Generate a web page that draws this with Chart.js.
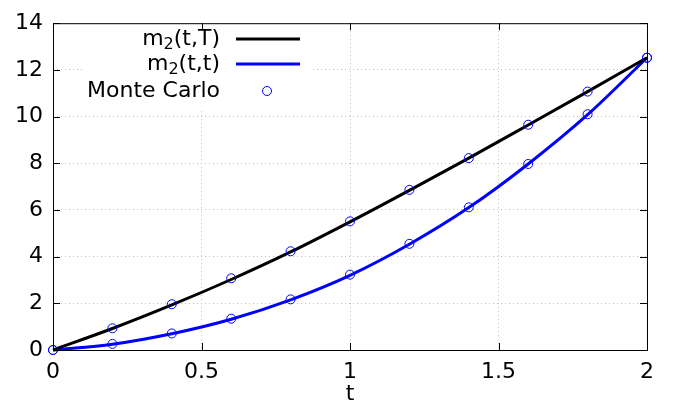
<!DOCTYPE html>
<html>
<head>
<meta charset="utf-8">
<script src="https://cdn.jsdelivr.net/npm/chart.js@4/dist/chart.umd.min.js"></script>
<style>
  html, body { margin: 0; padding: 0; background: #fff; }
  #wrap { width: 676px; height: 407px; position: relative; }
</style>
</head>
<body>
<div id="wrap"><canvas id="chart"></canvas></div>
<script>
// values
const tValues = [0, 0.2, 0.4, 0.6, 0.8, 1.0, 1.2, 1.4, 1.6, 1.8, 2.0];
const m2TT = [0, 0.92, 1.93, 3.02, 4.20, 5.49, 6.84, 8.22, 9.64, 11.07, 12.52];
const m2tt = [0, 0.25, 0.70, 1.32, 2.15, 3.20, 4.53, 6.10, 7.97, 10.08, 12.52];
const mcTT = [0, 0.93, 1.96, 3.07, 4.23, 5.51, 6.86, 8.22, 9.65, 11.07, 12.52];
const mcTt = [0, 0.26, 0.71, 1.34, 2.17, 3.23, 4.55, 6.11, 7.97, 10.10, 12.52];
const xTicks = [0, 0.5, 1, 1.5, 2];
const yTicks = [0, 2, 4, 6, 8, 10, 12, 14];
const legendLabels = ['m|2|(t,T)', 'm|2|(t,t)', 'Monte Carlo'];

const FONT = 'DejaVu Sans';
const toPoints = ys => tValues.map((t, i) => ({ x: t, y: ys[i] }));

// gnuplot style frame: black box with inward ticks on all sides
const framePlugin = {
    id: 'frame',
    afterDraw(chart) {
        const { ctx, chartArea: a, scales } = chart;
        ctx.save();
        ctx.strokeStyle = '#000';
        ctx.lineWidth = 1;
        ctx.beginPath();
        xTicks.forEach(v => {
            const x = Math.round(scales.x.getPixelForValue(v)) + 0.5;
            ctx.moveTo(x, a.bottom); ctx.lineTo(x, a.bottom - 7);
            ctx.moveTo(x, a.top); ctx.lineTo(x, a.top + 7);
        });
        yTicks.forEach(v => {
            const y = Math.round(scales.y.getPixelForValue(v)) + 0.5;
            ctx.moveTo(a.left, y); ctx.lineTo(a.left + 7, y);
            ctx.moveTo(a.right, y); ctx.lineTo(a.right - 7, y);
        });
        ctx.stroke();
        ctx.strokeRect(a.left + 0.5, a.top + 0.5, a.right - a.left, a.bottom - a.top);
        ctx.restore();
    }
};

// legend drawn by hand so the subscript and placement match the reference
const legendPlugin = {
    id: 'keyBox',
    beforeDatasetsDraw(chart) {
        // the key is opaque: grid lines do not show behind it
        const { ctx, chartArea: a } = chart;
        ctx.save();
        ctx.fillStyle = '#fff';
        ctx.fillRect(82, a.top + 1, 228, 86);
        ctx.restore();
    },
    afterDraw(chart) {
        const { ctx } = chart;
        const textRight = 220;
        const rows = [39, 64, 91];
        ctx.save();
        ctx.textBaseline = 'middle';
        legendLabels.forEach((label, i) => {
            const parts = label.split('|');
            const y = rows[i];
            const big = '22px "' + FONT + '"';
            const small = '16px "' + FONT + '"';
            // measure the whole label first
            let widths = parts.map((p, k) => {
                ctx.font = (k === 1) ? small : big;
                return ctx.measureText(p).width;
            });
            let x = textRight - widths.reduce((s, w) => s + w, 0);
            ctx.fillStyle = '#000';
            ctx.textAlign = 'left';
            parts.forEach((p, k) => {
                ctx.font = (k === 1) ? small : big;
                ctx.fillText(p, x, k === 1 ? y + 6 : y);
                x += widths[k];
            });
            const ds = chart.data.datasets[i];
            if (i < 2) {
                ctx.strokeStyle = ds.borderColor;
                ctx.lineWidth = ds.borderWidth;
                ctx.beginPath();
                ctx.moveTo(236, y); ctx.lineTo(300, y);
                ctx.stroke();
            } else {
                ctx.strokeStyle = ds.pointBorderColor;
                ctx.lineWidth = 1;
                ctx.beginPath();
                ctx.arc(267, y, 4.5, 0, Math.PI * 2);
                ctx.stroke();
            }
        });
        ctx.restore();
    }
};

const ctx = document.getElementById('chart').getContext('2d');
new Chart(ctx, {
    type: 'line',
    data: {
        datasets: [
            {
                label: 'm₂(t,T)',
                data: toPoints(m2TT),
                borderColor: '#000000',
                borderWidth: 3,
                pointRadius: 0,
                cubicInterpolationMode: 'monotone',
                order: 2
            },
            {
                label: 'm₂(t,t)',
                data: toPoints(m2tt),
                borderColor: '#0000ff',
                borderWidth: 3,
                pointRadius: 0,
                cubicInterpolationMode: 'monotone',
                order: 2
            },
            {
                label: 'Monte Carlo',
                data: toPoints(mcTT),
                showLine: false,
                pointRadius: 4.5,
                pointBorderWidth: 1,
                pointBorderColor: '#0000ff',
                pointBackgroundColor: 'rgba(0,0,0,0)',
                order: 1
            },
            {
                label: 'Monte Carlo ',
                data: toPoints(mcTt),
                showLine: false,
                pointRadius: 4.5,
                pointBorderWidth: 1,
                pointBorderColor: '#0000ff',
                pointBackgroundColor: 'rgba(0,0,0,0)',
                order: 1
            }
        ]
    },
    options: {
        responsive: true,
        maintainAspectRatio: false,
        animation: false,
        clip: false,
        layout: { padding: { left: 0, right: 29, top: 18, bottom: 0 } },
        plugins: {
            legend: { display: false },
            tooltip: { enabled: false }
        },
        scales: {
            x: {
                type: 'linear',
                min: 0,
                max: 2,
                afterBuildTicks: s => { s.ticks = xTicks.map(v => ({ value: v })); },
                afterFit: s => { s.height = 57; },
                border: { display: false, dash: [1, 3] },
                grid: { color: '#c0c0c0', lineWidth: 1, drawTicks: false },
                ticks: {
                    color: '#000',
                    padding: 9,
                    maxRotation: 0,
                    font: { family: FONT, size: 22 },
                    callback: v => String(v)
                },
                title: {
                    display: true,
                    text: 't',
                    color: '#000',
                    padding: { top: 0, bottom: 0 },
                    font: { family: FONT, size: 22 }
                }
            },
            y: {
                min: 0,
                max: 14,
                afterBuildTicks: s => { s.ticks = yTicks.map(v => ({ value: v })); },
                afterFit: s => { s.width = 53; },
                border: { display: false, dash: [1, 3] },
                grid: { color: '#c0c0c0', lineWidth: 1, drawTicks: false },
                ticks: {
                    color: '#000',
                    padding: 10,
                    font: { family: FONT, size: 22 },
                    callback: v => String(v)
                }
            }
        }
    },
    plugins: [framePlugin, legendPlugin]
});
</script>
</body>
</html>
